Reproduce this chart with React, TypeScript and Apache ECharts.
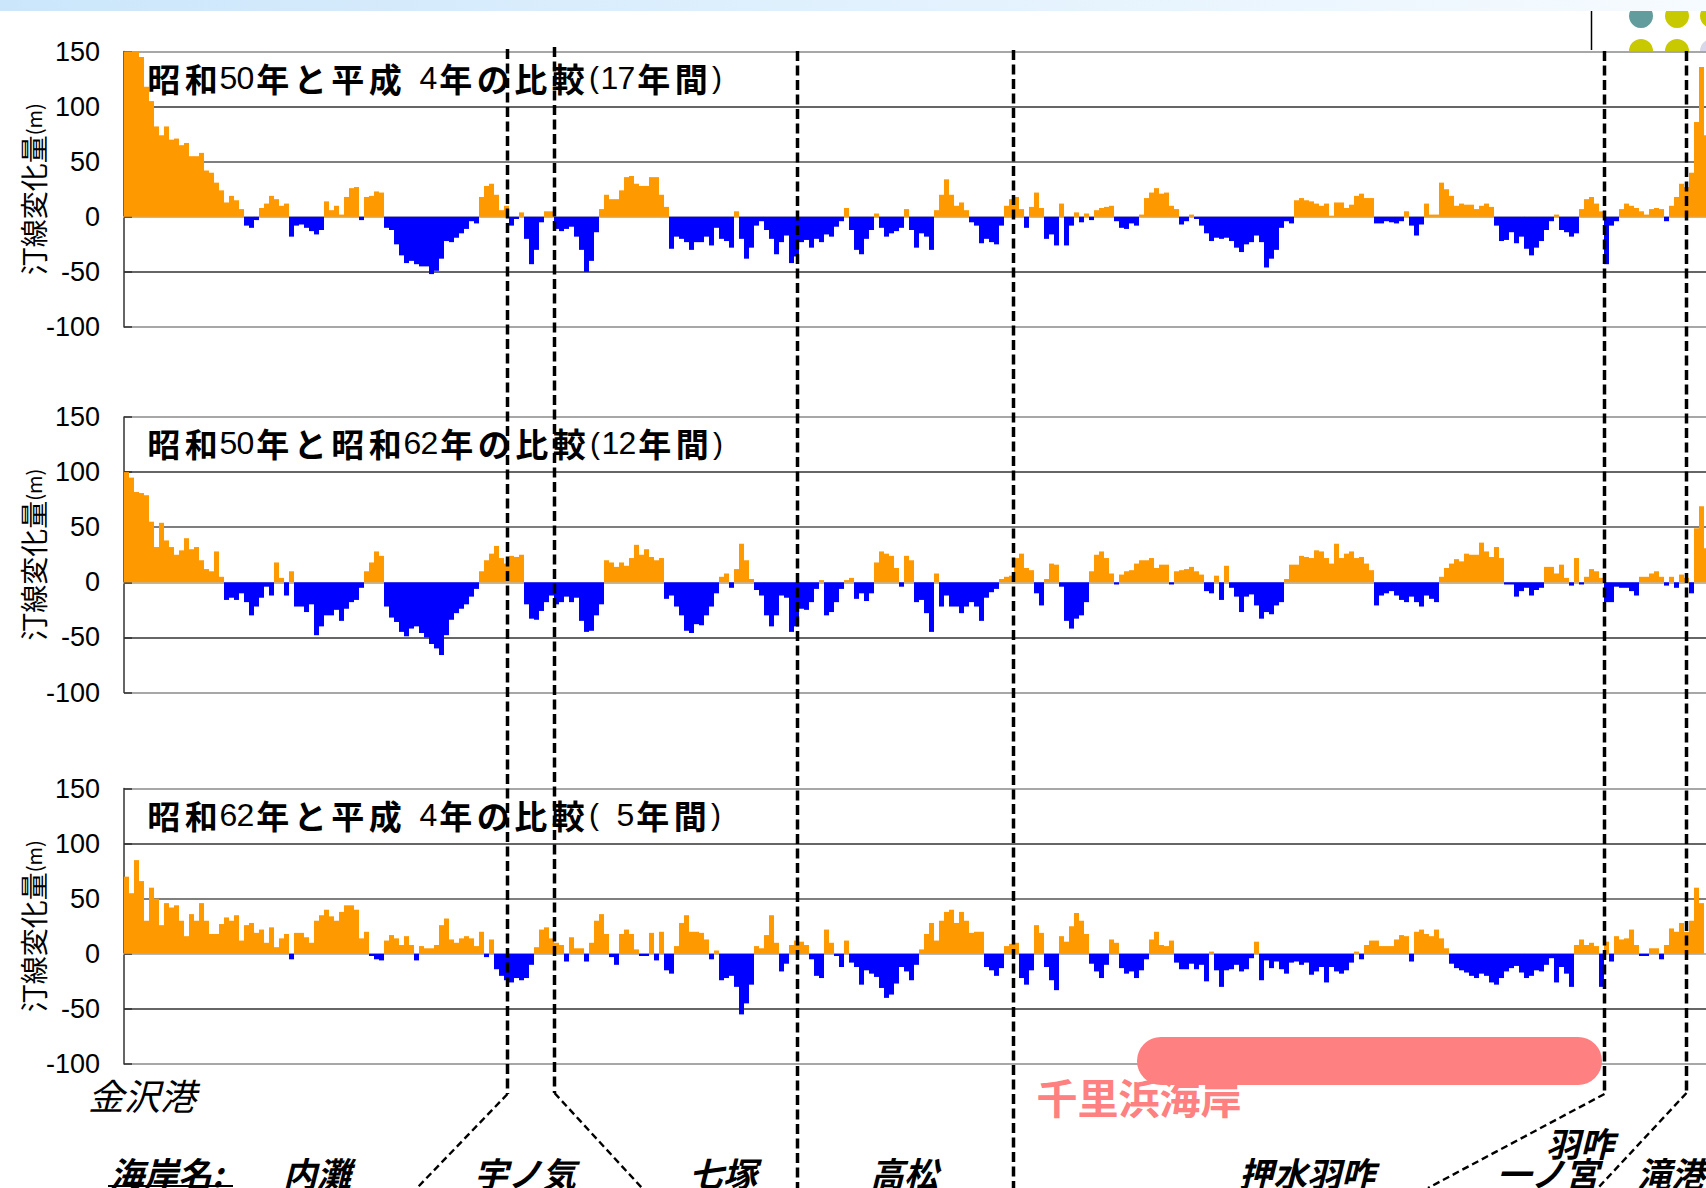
import React, { useEffect, useRef } from "react";
import * as echarts from "echarts";

// ---- data (shoreline change, m) per survey point, west (金沢港) -> east (滝港)
const p1 = [
  152, 150, 150, 145, 118, 105, 82, 74, 82, 70,
  71, 65, 67, 55, 55, 58, 42, 40, 31, 24,
  13, 19, 15, 7, -8, -10, -3, 8, 12, 19,
  16, 10, 12, -18, -8, -7, -10, -13, -16, -12,
  14, 6, 10, 2, 18, 26, 27, -3, 18, 19,
  23, 22, -10, -12, -25, -35, -42, -40, -43, -45,
  -45, -52, -49, -38, -22, -23, -19, -15, -11, -4,
  -6, 18, 28, 30, 20, 6, 10, -8, -2, 4,
  -20, -43, -30, -5, 5, 5, -11, -13, -11, -9,
  -18, -30, -50, -40, -14, 7, 20, 16, 16, 24,
  36, 37, 30, 28, 28, 36, 36, 20, 9, -29,
  -18, -20, -23, -30, -23, -23, -18, -26, -10, -20,
  -22, -28, 5, -20, -38, -28, -8, -4, -12, -20,
  -34, -23, -17, -42, -36, -23, -21, -28, -20, -23,
  -16, -18, -9, -4, 8, -12, -30, -34, -20, -12,
  3, -10, -18, -15, -13, -10, 7, -12, -28, -15,
  -18, -30, 6, 20, 34, 20, 10, 13, 6, -5,
  -8, -24, -20, -23, -25, -8, 10, 16, 18, 7,
  -10, 9, 22, 8, -20, -16, -26, 12, -26, -8,
  4, -5, 3, -3, 6, 8, 9, 10, -4, -10,
  -11, -6, -8, 2, 17, 22, 26, 21, 22, 10,
  7, -7, -4, 2, -2, -8, -15,
  -22, -19, -20, -19, -22, -28, -32, -25, -23, -17,
  -23, -46, -38, -30, -10, -4, -6, 15, 17, 15,
  14, 12, 10, 12, 1, 13, 13, 8, 11, 19,
  21, 17, 17, -6, -6, -4, -5, -6, -4, 5,
  -8, -17, -7, 12, 2, 2, 31, 25, 19, 10,
  12, 11, 11, 7, 10, 12, 9, -8, -22, -21,
  -14, -24, -18, -29, -35, -28, -22, -12, -4, 2,
  -12, -14, -18, -15, 7, 16, 18, 12, 5, -43,
  -8, -4, 7, 12, 10, 8, 5, 2, 7, 8,
  7, -4, 10, 18, 30, 27, 40, 86, 136, 74,
];

const p2 = [
  100, 95, 82, 81, 79, 55, 32, 54, 38, 32,
  25, 29, 40, 30, 32, 20, 12, 10, 28, 5,
  -16, -14, -16, -10, -18, -30, -22, -14, -4, -12,
  18, 4, -12, 10, -22, -22, -27, -20, -48, -40,
  -30, -30, -25, -35, -24, -18, -16, -5, 10, 18,
  28, 24, -22, -32, -36, -45, -49, -42, -40, -46,
  -50, -56, -60, -66, -48, -34, -28, -24, -20, -13,
  -6, 10, 20, 26, 33, 22, 17, 24, 23, 25,
  -20, -33, -34, -26, -18, -12, -20, -18, -13, -18,
  -14, -35, -45, -44, -30, -20, 20, 18, 14, 18,
  15, 22, 34, 25, 30, 23, 20, 22, -15,
  -12, -22, -30, -44, -46, -38, -39, -30, -22, -10,
  5, 8, -5, 12, 35, 20, 3, -7, -12, -30,
  -40, -30, -12, -14, -45, -40, -24, -25, -18, -6,
  2, -30, -27, -18, -6, 2, 4, -15, -10, -17,
  -10, 18, 28, 26, 24, 13, -4, 24, 20, -18,
  -16, -28, -45, 8, -22, -12, -22, -22, -28, -22,
  -18, -22, -35, -14, -9, -6, 3, 5, 6, 22,
  26, 13, 11, -10, -21, 3, 17, 16, -4, -35,
  -42, -33, -30, -18, 10, 25, 28, 22, 8, -2,
  7, 10, 11, 17, 20, 20, 22, 13, 16, 16,
  -2, 10, 11, 12, 14, 10, 7, -8,
  -10, 6, -16, 15, -5, -13, -27, -13, -11, -21,
  -33, -27, -29, -21, -18, 3, 16, 16, 24, 23,
  22, 29, 28, 22, 17, 35, 22, 26, 28, 22,
  23, 17, 11, -21, -12, -10, -8, -12, -16, -18,
  -13, -18, -22, -12, -15, -18, 5, 13, 17, 21,
  19, 26, 25, 25, 36, 28, 23, 32, 22, -2,
  -2, -13, -8, -5, -12, -7, -5, 14, 14, 8,
  16, 4, -3, 22, -2, 5, 12, 10, 4, -18,
  -18, -4, -5, -5, -8, -12, 5, 5, 8, 10,
  5, -3, 5, -5, 7, 4, -10, 49, 69, 31,
];

const p3 = [
  70, 55, 85, 66, 30, 60, 50, 26, 46, 42,
  44, 30, 16, 36, 30, 46, 30, 18, 18, 27,
  33, 30, 35, 12, 26, 28, 19, 22, 10, 24,
  6, 14, 18, -5, 19, 19, 15, 10, 30, 35,
  40, 34, 30, 38, 44, 44, 40, 14, 20, -2,
  -5, -6, 12, 17, 14, 8, 16, 8, -6, 7,
  5, 5, 8, 26, 32, 13, 10, 14, 16, 14,
  7, 20, -3, 13, -14, -20, -24, -26, -22, -24,
  -22, -10, 6, 22, 24, 14, 10, 8, -7, 15,
  5, 5, -7, 10, 30, 36, 18, -3, -10, 18,
  22, 18, 4, -2, -2, 19, -6, 20, -15,
  -18, 7, 28, 35, 20, 20, 19, 13, -5, 3,
  -24, -22, -20, -30, -55, -45, -28, 7, 5, 17,
  35, 10, -16, -9, 8, 12, 11, 8, -5, -20,
  -22, 22, 10, -2, -12, 12, -8, -12, -28, -15,
  -18, -21, -31, -40, -37, -27, -12, -16, -24, -10,
  4, 18, 28, 12, 30, 38, 40, 28, 38, 30,
  19, 20, 20, -12, -15, -20, -13, 7, 9, 10,
  -22, -28, -15, 26, 19, -12, -24, -33, 16, 11,
  25, 37, 30, 18, -9, -16, -22, -10, 13, 10,
  -13, -18, -16, -22, -15, -5, 13, 20, 8, 7,
  12, -8, -14, -14, -9, -14, -10,
  -25, 2, -15, -30, -15, -14, -10, -16, -14, -4,
  11, -24, -6, -13, -7, -14, -18, -8, -7, -10,
  -8, -19, -16, -12, -26, -12, -16, -18, -15, -8,
  2, -5, 8, 12, 12, 7, 7, 7, 13, 17,
  16, -7, 20, 22, 18, 16, 22, 14, 5, -9,
  -13, -15, -17, -20, -22, -18, -20, -26, -28, -22,
  -16, -13, -11, -17, -22, -20, -15, -16, -10, -4,
  -26, -12, -18, -30, 8, 13, 8, 10, 7, -30,
  11, -7, 16, 13, 14, 22, 8, -2, -2, 5,
  5, -5, 8, 23, 20, 28, 20, 30, 60, 46,
];

const yMin = -100;
const yMax = 150;
const yStep = 50;

const panelTitles = [
  "昭和50年と平成 4年の比較(17年間)",
  "昭和50年と昭和62年の比較(12年間)",
  "昭和62年と平成 4年の比較( 5年間)",
];
const axisTitle = "汀線変化量";
const axisUnit = "(m)";
const coastNames = ["内灘", "宇ノ気", "七塚", "高松", "押水羽咋", "一ノ宮", "滝港"];
const portName = "金沢港";
const beachName = "千里浜海岸";
const coastHeader = "海岸名:";
const subName = "羽咋";

// ---- layout (px)
const ORANGE = "#ff9900";
const BLUE = "#0000ff";
const GRID_LEFT = 124;
const BAR_W = 5;
const panelTops = [51.5, 417, 788.5];
const PANEL_H = 275.5;
const coastX = [317, 525, 723, 904, 1307, 1548, 1671];

function richTitle(s: string) {
  return s
    .split("")
    .map((ch) => {
      if (/[0-9]/.test(ch)) return `{d|${ch}}`;
      if (ch === "(" || ch === ")") return `{p|${ch}}`;
      if (ch === " ") return `{s| }`;
      return `{c|${ch}}`;
    })
    .join("");
}

const CJK = "'Noto Sans CJK JP', sans-serif";
const LAT = "'Liberation Sans', Arial, sans-serif";

export default function App() {
  const ref = useRef<HTMLDivElement>(null);

  useEffect(() => {
    if (!ref.current) return;
    const chart = echarts.init(ref.current, null, { renderer: "svg" });
    const series = [p1, p2, p3];
    const stations = p1.map((_, i) => String(i + 1));
    const gridW = p1.length * BAR_W;

    const grids = panelTops.map((t) => ({
      left: GRID_LEFT,
      top: t,
      width: gridW,
      height: PANEL_H,
    }));

    const xAxes = panelTops.map((_, k) => ({
      type: "category",
      gridIndex: k,
      data: stations,
      boundaryGap: true,
      axisLabel: { show: false },
      axisTick: { show: false },
      axisLine: { show: true, onZero: true, lineStyle: { color: "#b8b8b8", width: 2 } },
      splitLine: { show: false },
    }));

    const yAxes = panelTops.map((_, k) => ({
      type: "value",
      gridIndex: k,
      min: yMin,
      max: yMax,
      interval: yStep,
      axisLabel: {
        color: "#000",
        fontSize: 27,
        fontFamily: LAT,
        margin: 24,
      },
      axisLine: { show: true, lineStyle: { color: "#333", width: 1.5 } },
      axisTick: { show: true, inside: true, length: 8, lineStyle: { color: "#333", width: 1.5 } },
      splitLine: {
        show: true,
        lineStyle: {
          color: ["#8a8a8a", "#333", "rgba(0,0,0,0)", "#555", "#333", "#8a8a8a"],
          width: 1.5,
        },
      },
    }));

    const barSeries = series.map((arr, k) => ({
      type: "bar",
      xAxisIndex: k,
      yAxisIndex: k,
      barCategoryGap: "0%",
      barGap: "0%",
      clip: true,
      silent: true,
      data: arr.map((v) => ({ value: v, itemStyle: { color: v >= 0 ? ORANGE : BLUE } })),
    }));

    const graphics: any[] = [];

    // decorative dots (top right)
    const dotCols = [1641, 1677, 1712];
    const row1 = ["#629c9c", "#c9c900", "#c9c900"];
    const row2 = ["#c9c900", "#c9c900", "#d8d8ea"];
    dotCols.forEach((cx, j) => {
      graphics.push({ type: "circle", z: 1, shape: { cx, cy: 16, r: 12 }, style: { fill: row1[j] } });
      graphics.push({
        type: "sector",
        z: 1,
        shape: { cx, cy: 51, r: 12, startAngle: Math.PI, endAngle: Math.PI * 2 },
        style: { fill: row2[j] },
      });
    });
    // top band
    graphics.push({
      type: "rect",
      z: 2,
      shape: { x: 0, y: 0, width: 1706, height: 11 },
      style: {
        fill: new echarts.graphic.LinearGradient(0, 0, 1, 0, [
          { offset: 0, color: "#cbe6fb" },
          { offset: 1, color: "#f6fbff" },
        ]),
      },
    });
    graphics.push({
      type: "line",
      z: 2,
      shape: { x1: 1591.5, y1: 11, x2: 1591.5, y2: 50 },
      style: { stroke: "#000", lineWidth: 1.5 },
    });

    // panel titles + axis names
    panelTops.forEach((t, k) => {
      graphics.push({
        type: "text",
        z: 100,
        x: 145,
        y: t + 26,
        style: {
          text: richTitle(panelTitles[k]),
          verticalAlign: "middle",
          align: "left",
          rich: {
            c: { fontSize: 33, fontWeight: "bold", fontFamily: CJK, fill: "#000", width: 37.5, align: "center" },
            d: { fontSize: 32, fontFamily: LAT, fill: "#000", width: 17, align: "center" },
            p: { fontSize: 30, fontFamily: LAT, fill: "#000", width: 14, align: "center" },
            s: { fontSize: 30, fontFamily: LAT, width: 16, align: "center" },
          },
        },
      });
      graphics.push({
        type: "text",
        z: 100,
        x: 33,
        y: t + PANEL_H / 2,
        rotation: Math.PI / 2,
        style: {
          text: `{c|${axisTitle}}{m|${axisUnit}}`,
          align: "center",
          verticalAlign: "middle",
          rich: {
            c: { fontSize: 28, fontFamily: CJK, fill: "#000" },
            m: { fontSize: 20, fontFamily: CJK, fill: "#000" },
          },
        },
      });
    });

    // dashed coast boundaries
    const seps = [
      { x: 507.5, top: 49, bend: 1094, end: [417, 1188] },
      { x: 554.5, top: 47, bend: 1093, end: [642, 1188] },
      { x: 797.5, top: 51, bend: 1188, end: null },
      { x: 1013.5, top: 50, bend: 1188, end: null },
      { x: 1604.5, top: 51, bend: 1094, end: [1428, 1188] },
      { x: 1686.5, top: 51, bend: 1093, end: [1598, 1188] },
    ];
    seps.forEach((s) => {
      graphics.push({
        type: "line",
        z: 100,
        shape: { x1: s.x, y1: s.top, x2: s.x, y2: s.bend },
        style: { stroke: "#000", lineDash: [10, 4.5], lineWidth: 3.5 },
      });
      if (s.end) {
        graphics.push({
          type: "line",
          z: 100,
          shape: { x1: s.x, y1: s.bend, x2: s.end[0], y2: s.end[1] },
          style: { stroke: "#000", lineDash: [7, 4], lineWidth: 2.4 },
        });
      }
    });

    // pink highlight
    graphics.push({
      type: "rect",
      z: 110,
      shape: { x: 1137, y: 1037, width: 465, height: 48, r: 24 },
      style: { fill: "#ff8080" },
    });
    graphics.push({
      type: "text",
      z: 110,
      x: 1139,
      y: 1096,
      style: {
        text: beachName,
        fill: "#ff8080",
        fontSize: 41,
        fontWeight: "bold",
        fontFamily: CJK,
        align: "center",
        verticalAlign: "middle",
      },
    });

    // port name
    graphics.push({
      type: "text",
      z: 100,
      x: 88,
      y: 1094,
      style: {
        text: portName,
        fill: "#000",
        fontSize: 36,
        fontStyle: "italic",
        fontFamily: CJK,
        align: "left",
        verticalAlign: "middle",
      },
    });

    // coast names
    const labelStyle = {
      fill: "#000",
      fontSize: 34,
      fontWeight: "bold",
      fontStyle: "italic",
      fontFamily: CJK,
      verticalAlign: "middle",
    };
    graphics.push({
      type: "text",
      z: 100,
      x: 110,
      y: 1172,
      style: { ...labelStyle, text: coastHeader, align: "left" },
    });
    graphics.push({
      type: "line",
      z: 100,
      shape: { x1: 108, y1: 1186, x2: 233, y2: 1186 },
      style: { stroke: "#000", lineWidth: 2 },
    });
    coastNames.forEach((n, i) => {
      graphics.push({
        type: "text",
        z: 100,
        x: coastX[i],
        y: 1172,
        style: { ...labelStyle, text: n, align: "center" },
      });
    });
    graphics.push({
      type: "text",
      z: 100,
      x: 1580,
      y: 1142,
      style: { ...labelStyle, text: subName, align: "center" },
    });

    chart.setOption({
      animation: false,
      backgroundColor: "#fff",
      textStyle: { fontFamily: LAT },
      grid: grids,
      xAxis: xAxes,
      yAxis: yAxes,
      series: barSeries,
      graphic: { elements: graphics },
    });

    return () => chart.dispose();
  }, []);

  return (
    <div
      style={{
        position: "fixed",
        left: 0,
        top: 0,
        width: 1706,
        height: 1188,
        overflow: "hidden",
        background: "#fff",
      }}
    >
      <div ref={ref} style={{ width: 1712, height: 1188 }} />
    </div>
  );
}
